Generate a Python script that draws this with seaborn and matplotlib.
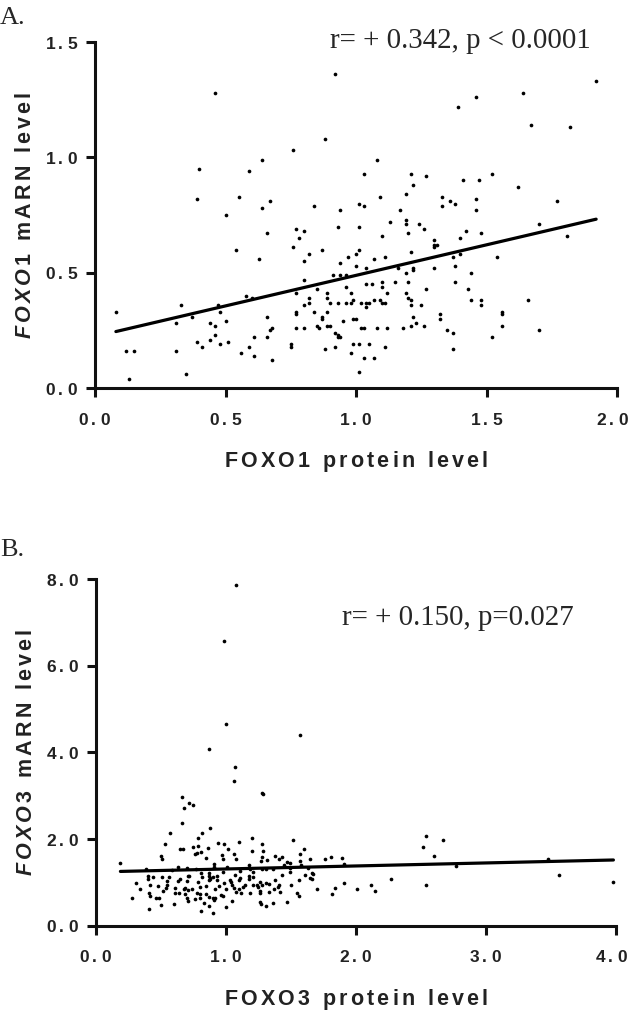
import matplotlib
matplotlib.use('Agg')
import matplotlib.pyplot as plt
import matplotlib.transforms as mtransforms
import seaborn as sns

# A. FOXO1 protein level vs FOXO1 mRNA level
foxo1_protein = [
    0.08, 0.12, 0.15, 0.13, 0.33, 0.31, 0.31, 0.35, 0.37, 0.39,
    0.40, 0.39, 0.41, 0.44, 0.44, 0.46, 0.46, 0.46, 0.47, 0.48,
    0.48, 0.50, 0.50, 0.51, 0.54, 0.55, 0.56, 0.58, 0.59, 0.59,
    0.60, 0.61, 0.61, 0.63, 0.64, 0.64, 0.66, 0.66, 0.66, 0.67,
    0.67, 0.68, 0.68, 0.75, 0.75, 0.76, 0.76, 0.77, 0.77, 0.77,
    0.77, 0.77, 0.78, 0.80, 0.80, 0.80, 0.80, 0.80, 0.82, 0.82,
    0.82, 0.84, 0.84, 0.85, 0.85, 0.86, 0.87, 0.87, 0.87, 0.88,
    0.88, 0.89, 0.89, 0.89, 0.89, 0.90, 0.90,
    0.92, 1.92, 1.64, 1.46, 1.39, 1.67, 1.82, 1.08, 1.03, 1.21,
    1.27, 1.22, 1.41, 1.47, 1.52, 1.62, 1.19, 1.09, 1.33, 1.36,
    1.38, 1.33, 1.46, 1.01, 1.03, 1.77, 0.94, 1.46, 1.17, 0.93,
    1.01, 1.19, 1.19, 1.24, 1.26, 1.13, 1.70, 1.10, 1.20, 1.42,
    1.40, 1.48, 1.81, 1.30, 1.30, 1.31, 1.30, 1.01, 1.00, 0.97,
    1.07, 1.11, 1.21, 1.37, 1.40, 1.54, 0.94, 1.00, 1.04, 1.16,
    1.22, 1.22, 1.30, 1.38, 1.19, 1.44, 0.91, 0.94, 0.96, 0.96,
    1.04, 1.06, 1.10, 1.10, 1.15, 1.20, 1.27, 1.38, 1.43, 0.98,
    1.12, 1.19, 1.20, 1.21, 1.21, 0.93, 0.96, 0.98, 0.99, 1.02,
    1.04, 1.04, 1.05, 1.07, 1.09, 1.10, 1.11, 1.25, 1.44, 1.48,
    1.48, 1.66, 0.95, 0.99, 1.00, 1.22, 1.32, 1.32, 1.56, 1.56,
    1.56, 0.92, 0.93, 0.93, 0.94, 1.02, 1.03, 1.08, 1.12, 1.18,
    1.21, 1.23, 1.26, 1.35, 1.37, 1.70, 1.52, 0.92, 0.99, 1.01,
    1.05, 1.11, 0.98, 1.03, 1.07, 1.37, 1.01,
]
foxo1_mrna = [
    0.33, 0.16, 0.16, 0.04, 0.36, 0.28, 0.16, 0.06, 0.31, 0.82,
    0.95, 0.20, 0.18, 0.28, 0.21, 0.23, 1.28, 0.27, 0.36, 0.33,
    0.19, 0.29, 0.75, 0.20, 0.60, 0.83, 0.15, 0.40, 0.94, 0.18,
    0.39, 0.22, 0.14, 0.56, 0.99, 0.78, 0.67, 0.31, 0.22, 0.81,
    0.25, 0.26, 0.12, 0.19, 0.18, 0.61, 1.03, 0.69, 0.41, 0.33,
    0.32, 0.26, 0.65, 0.68, 0.55, 0.47, 0.26, 0.36, 0.58, 0.39,
    0.37, 0.79, 0.33, 0.43, 0.27, 0.26, 0.60, 0.30, 0.31, 1.08,
    0.17, 0.41, 0.39, 0.33, 0.27, 0.37, 0.27,
    1.36, 1.33, 1.28, 1.26, 1.22, 1.14, 1.13, 0.99, 0.93, 0.93,
    0.92, 0.88, 0.90, 0.90, 0.93, 0.87, 0.84, 0.83, 0.83, 0.81,
    0.80, 0.79, 0.82, 0.80, 0.79, 0.81, 0.77, 0.77, 0.77, 0.70,
    0.70, 0.73, 0.71, 0.71, 0.69, 0.72, 0.71, 0.66, 0.67, 0.68,
    0.65, 0.67, 0.66, 0.64, 0.62, 0.62, 0.61, 0.60, 0.58, 0.57,
    0.56, 0.57, 0.59, 0.57, 0.58, 0.57, 0.54, 0.53, 0.52, 0.52,
    0.52, 0.51, 0.52, 0.53, 0.50, 0.50, 0.49, 0.49, 0.49, 0.44,
    0.45, 0.45, 0.46, 0.44, 0.46, 0.46, 0.43, 0.46, 0.43, 0.41,
    0.41, 0.41, 0.39, 0.38, 0.36, 0.37, 0.37, 0.37, 0.38, 0.37,
    0.37, 0.35, 0.37, 0.38, 0.38, 0.37, 0.37, 0.36, 0.38, 0.38,
    0.36, 0.38, 0.29, 0.30, 0.30, 0.31, 0.32, 0.30, 0.33, 0.32,
    0.27, 0.24, 0.23, 0.22, 0.22, 0.26, 0.26, 0.26, 0.26, 0.26,
    0.27, 0.28, 0.27, 0.25, 0.24, 0.25, 0.22, 0.18, 0.19, 0.19,
    0.19, 0.18, 0.15, 0.13, 0.13, 0.17, 0.07,
]

# B. FOXO3 protein level vs FOXO3 mRNA level
foxo3_protein = [
    1.08, 0.99, 1.00, 0.87, 1.57, 1.07,
    1.06, 1.28, 1.29, 0.66, 0.72, 0.75, 0.68, 0.66, 0.88, 0.82,
    0.57, 1.20, 1.52, 0.79, 0.53, 0.94, 0.99, 1.10, 1.28, 0.75,
    0.79, 0.65, 0.67, 0.86, 1.02, 1.60, 1.20, 1.29, 0.76, 0.78,
    0.81, 0.97, 1.06, 1.57, 0.50, 0.51, 0.85, 0.98, 1.08, 1.38,
    1.41, 1.43, 1.28, 1.27, 1.32, 1.47, 1.49, 1.65, 1.57, 1.76,
    1.81, 0.19, 0.91, 1.18, 1.45, 1.58, 0.39, 0.63, 0.70, 0.77,
    0.91, 1.01, 1.19, 1.28, 1.36, 1.49, 1.63, 0.59, 0.98, 0.81,
    0.87, 1.11, 1.21, 1.31, 1.49, 0.31, 0.40, 0.40, 0.44, 0.51,
    0.56, 0.55, 0.71, 0.72, 0.87, 0.88, 0.90, 0.82, 0.93, 1.07,
    1.18, 1.21, 1.43, 1.61, 1.66, 1.65, 1.66, 1.67, 0.87, 0.88,
    0.65, 0.63, 0.70, 0.79, 0.93, 0.99, 1.03, 1.04, 1.10, 1.11,
    1.18, 1.26, 1.31, 1.38, 1.56, 0.34, 0.42, 0.48, 0.54, 0.55,
    0.61, 0.68, 0.69, 0.71, 0.74, 0.80, 0.85, 0.92, 0.95, 1.00,
    1.05, 1.06, 1.13, 1.15, 1.21, 1.24, 1.25, 1.28, 1.33, 1.40,
    1.41, 1.50, 1.55, 1.70, 1.84, 0.41, 0.42, 0.46, 0.49, 0.52,
    0.61, 0.64, 0.69, 0.70, 0.71, 0.78, 0.80, 0.80, 0.85, 0.87,
    0.90, 0.92, 0.96, 0.98, 1.08, 1.10, 1.12, 1.19, 1.26, 1.26,
    1.33, 1.37, 1.42, 1.56, 1.82, 0.28, 0.60, 0.76, 0.83, 0.91,
    1.00, 1.05, 1.26, 1.27, 1.31, 1.36, 1.47, 0.41, 0.50, 0.81, 0.90, 0.87,
    1.89, 1.91, 1.91, 2.01, 2.12, 2.15, 2.27, 2.54, 2.52, 2.60,
    2.67, 2.54, 2.77, 3.48, 3.56, 3.98,
]
foxo3_mrna = [
    7.87, 6.58, 4.65, 4.09, 4.41, 3.67,
    3.34, 3.07, 3.03, 2.98, 2.84, 2.79, 2.71, 2.36, 2.25, 2.15,
    2.15, 2.03, 1.98, 2.03, 1.88, 1.91, 1.88, 1.93, 1.88, 1.81,
    1.84, 1.76, 1.77, 1.79, 1.78, 1.78, 1.72, 1.73, 1.65, 1.67,
    1.70, 1.64, 1.65, 1.65, 1.61, 1.54, 1.56, 1.55, 1.55, 1.61,
    1.55, 1.58, 1.58, 1.50, 1.52, 1.48, 1.45, 1.55, 1.50, 1.55,
    1.58, 1.44, 1.42, 1.41, 1.41, 1.41, 1.30, 1.35, 1.34, 1.32,
    1.36, 1.35, 1.32, 1.32, 1.31, 1.34, 1.34, 1.28, 1.25, 1.21,
    1.21, 1.26, 1.25, 1.32, 1.25, 0.99, 1.15, 1.07, 1.13, 1.13,
    1.12, 1.03, 1.15, 1.15, 1.15, 1.11, 1.13, 1.13, 1.15, 1.16,
    1.15, 1.13, 1.16, 1.17, 1.21, 1.11, 1.07, 1.19, 1.05, 1.08,
    1.07, 1.04, 1.03, 1.02, 1.05, 0.99, 1.05, 1.01, 1.05, 1.09,
    1.07, 1.00, 0.98, 1.05, 1.05, 0.84, 0.95, 0.91, 0.86, 0.94,
    0.88, 0.85, 0.88, 0.82, 0.85, 0.90, 0.91, 0.85, 0.91, 0.85,
    0.94, 0.86, 0.89, 0.94, 0.94, 0.95, 0.89, 0.95, 0.97, 0.89,
    0.93, 0.93, 0.75, 0.85, 0.87, 0.75, 0.69, 0.64, 0.64, 0.79,
    0.76, 0.75, 0.72, 0.64, 0.56, 0.76, 0.73, 0.65, 0.73, 0.67,
    0.64, 0.64, 0.71, 0.69, 0.77, 0.85, 0.76, 0.75, 0.75, 0.80,
    0.78, 0.84, 0.78, 0.69, 0.72, 0.65, 0.50, 0.61, 0.52, 0.60,
    0.44, 0.58, 0.55, 0.49, 0.46, 0.53, 0.55, 0.39, 0.47, 0.34, 0.29, 0.46,
    1.57, 1.43, 0.99, 0.85, 0.93, 0.79, 1.07, 2.08, 1.82, 1.62,
    1.99, 0.93, 1.37, 1.55, 1.17, 1.01,
]

xticks_a = [0.0, 0.5, 1.0, 1.5, 2.0]
yticks_a = [0.0, 0.5, 1.0, 1.5]
xticks_b = [0.0, 1.0, 2.0, 3.0, 4.0]
yticks_b = [0.0, 2.0, 4.0, 6.0, 8.0]

stats_a = 'r= + 0.342, p < 0.0001'
stats_b = 'r= + 0.150, p=0.027'

sns.set_style('ticks')
plt.rcParams['font.family'] = ['Liberation Sans', 'DejaVu Sans']
plt.rcParams['mathtext.fontset'] = 'custom'
plt.rcParams['mathtext.it'] = 'Liberation Sans:italic:bold'
plt.rcParams['mathtext.rm'] = 'Liberation Sans:bold'


def spaced(s):
    # GraphPad style letter spacing, done with mathtext thin spaces
    words = [r'\,'.join(w) for w in s.split(' ')]
    return r'\ \ '.join(words)


def tick_text(v):
    return r'$\mathrm{' + spaced('%.1f' % v) + '}$'


def panel(fig, ax, x, y, xticks, yticks, gene, stats, stats_pos):
    sns.regplot(x=x, y=y, ax=ax, ci=None, color='black',
                scatter_kws=dict(s=7, linewidths=0, alpha=1),
                line_kws=dict(lw=2.3, color='black'))
    ax.set_xlim(xticks[0], xticks[-1])
    ax.set_ylim(yticks[0], yticks[-1])
    sns.despine(ax=ax)
    for side in ['left', 'bottom']:
        ax.spines[side].set_linewidth(2.2)
        ax.spines[side].set_color('#111111')
    ax.set_xticks(xticks)
    ax.set_yticks(yticks)
    ax.set_xticklabels([tick_text(v) for v in xticks], fontsize=12.5, color='#222222')
    ax.set_yticklabels([tick_text(v) for v in yticks], fontsize=12.5, color='#222222')
    ax.tick_params(axis='both', width=2.2, length=6.5, color='#111111')
    ax.tick_params(axis='x', pad=10.5)
    ax.tick_params(axis='y', pad=5)
    # last x label sits right at the figure edge, pull it in a little
    last = ax.get_xticklabels()[-1]
    shift = mtransforms.ScaledTranslation(-3 / 72, 0, fig.dpi_scale_trans)
    last.set_transform(last.get_transform() + shift)
    xlabel = r'$\mathrm{' + spaced(gene + ' protein level') + '}$'
    ylabel = r'$\it{' + spaced(gene) + r'}\ \ \mathrm{' + spaced('mARN level') + '}$'
    ax.set_xlabel(xlabel, fontsize=15.5, color='#222222')
    ax.set_ylabel(ylabel, fontsize=15.5, color='#222222')
    ax.xaxis.set_label_coords(0.5, -0.176)
    ax.yaxis.set_label_coords(-0.113, 0.5)
    ax.text(stats_pos[0], stats_pos[1], stats, transform=ax.transAxes,
            family='Liberation Serif', fontsize=20.8, va='baseline', ha='left')


fig = plt.figure(figsize=(6.3, 10.11), dpi=100)
ax1 = fig.add_axes([0.1508, 0.6162, 0.8286, 0.3422])
ax2 = fig.add_axes([0.1519, 0.0844, 0.8259, 0.3426])

panel(fig, ax1, foxo1_protein, foxo1_mrna, xticks_a, yticks_a, 'FOXO1', stats_a, (0.45, 0.983))
panel(fig, ax2, foxo3_protein, foxo3_mrna, xticks_b, yticks_b, 'FOXO3', stats_b, (0.473, 0.868))

fig.text(0.0, 1 - 24 / 1011, 'A.', family='Liberation Serif', fontsize=19, va='baseline')
fig.text(0.0, 1 - 556 / 1011, 'B.', family='Liberation Serif', fontsize=19, va='baseline')

fig.savefig('out.png', dpi=100)
